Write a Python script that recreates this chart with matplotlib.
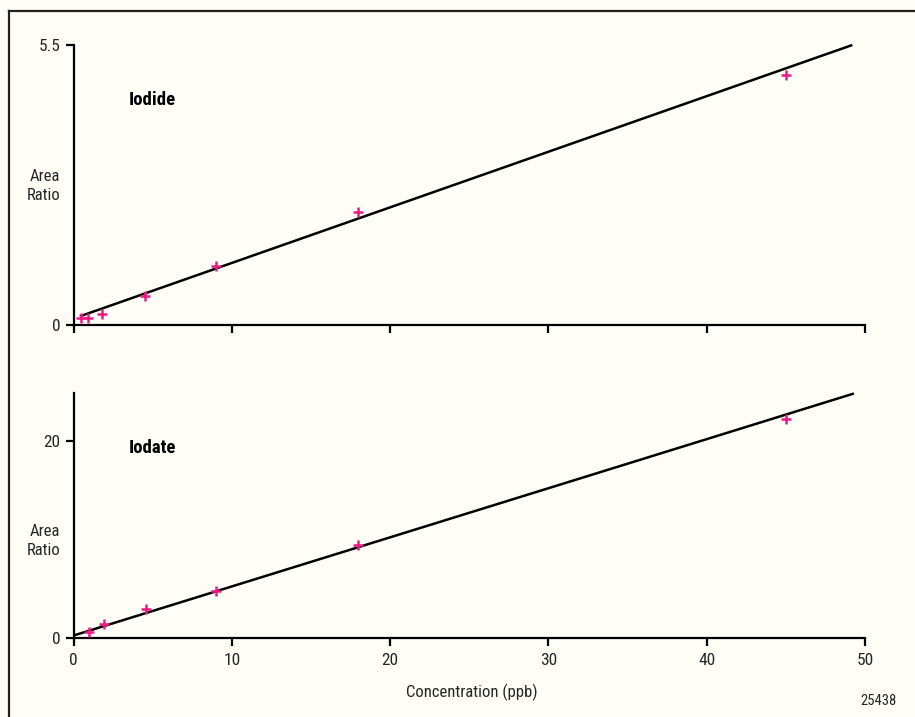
import matplotlib
matplotlib.use("Agg")
import matplotlib.pyplot as plt
from matplotlib.lines import Line2D
from matplotlib import font_manager as fm

# ---- data ----
iodide_x = [0.45, 0.9, 1.8, 4.5, 9.0, 18.0, 45.0]
iodide_y = [0.14, 0.14, 0.21, 0.57, 1.15, 2.22, 4.92]
iodide_fit_x = [0.4, 49.2]
iodide_fit_y = [0.17, 5.5]

iodate_x = [1.0, 1.9, 4.6, 9.0, 18.0, 45.0]
iodate_y = [0.64, 1.42, 2.9, 4.8, 9.4, 22.2]
iodate_fit_x = [0.0, 49.3]
iodate_fit_y = [0.25, 24.8]

x_ticks = [0, 10, 20, 30, 40, 50]
x_ticklabels = ["0", "10", "20", "30", "40", "50"]
top_yticks = [0, 5.5]
top_yticklabels = ["0", "5.5"]
bot_yticks = [0, 20]
bot_yticklabels = ["0", "20"]

names = sorted({f.name for f in fm.fontManager.ttflist})
cands = ['Liberation Sans Narrow', 'Roboto Condensed', 'Open Sans Condensed', 'DejaVu Sans Condensed']
FONT = [c for c in cands if c in names] + ['Liberation Sans', 'DejaVu Sans']
plt.rcParams['font.family'] = FONT
plt.rcParams['font.stretch'] = 'condensed'
TXT = '#262626'
BG = '#FEFEF6'
PINK = '#EC1C86'

fig = plt.figure(figsize=(9.15, 7.17), dpi=100)
fig.patch.set_facecolor(BG)

W, H = 915, 717
def ax_rect(x0, x1, ytop, ybot):
    return [x0 / W, 1 - ybot / H, (x1 - x0) / W, (ybot - ytop) / H]

ax1 = fig.add_axes(ax_rect(73.5, 865, 45, 325))
ax2 = fig.add_axes(ax_rect(73.5, 865, 392.5, 638))

for ax in (ax1, ax2):
    ax.set_facecolor(BG)
    ax.set_xlim(0, 50)
    for s in ('top', 'right'):
        ax.spines[s].set_visible(False)
    for s in ('left', 'bottom'):
        ax.spines[s].set_linewidth(1.6)
        ax.spines[s].set_color('black')
    ax.tick_params(direction='out', length=6, width=1.6, color='black',
                   labelsize=12.5, labelcolor=TXT, pad=3.5)
    ax.set_xticks(x_ticks)

ax1.set_ylim(0, 5.5)
ax1.set_yticks(top_yticks)
ax1.set_yticklabels(top_yticklabels)
ax1.set_xticklabels([])

ax2.set_ylim(0, 24.9)
ax2.set_yticks(bot_yticks)
ax2.set_yticklabels(bot_yticklabels)
ax2.set_xticklabels(x_ticklabels)
ax2.tick_params(axis='x', pad=5)

ax1.plot(iodide_fit_x, iodide_fit_y, color='black', lw=1.8, solid_capstyle='butt', clip_on=False)
ax1.plot(iodide_x, iodide_y, linestyle='none', marker='+', ms=7.5, mew=1.8, color=PINK, clip_on=False, zorder=3)
ax2.plot(iodate_fit_x, iodate_fit_y, color='black', lw=1.8, solid_capstyle='butt', clip_on=False)
ax2.plot(iodate_x, iodate_y, linestyle='none', marker='+', ms=7.5, mew=1.8, color=PINK, clip_on=False, zorder=3)

ax1.text(3.5, 4.42, "Iodide", fontsize=13.5, fontweight='bold', color='black', va='center', ha='left')
ax2.text(3.5, 19.25, "Iodate", fontsize=13.5, fontweight='bold', color='black', va='center', ha='left')

fig.text(60 / W, 1 - 186 / H, "Area\nRatio", ha='right', va='center', multialignment='right',
         fontsize=12, color=TXT, linespacing=1.35)
fig.text(60 / W, 1 - 541 / H, "Area\nRatio", ha='right', va='center', multialignment='right',
         fontsize=12, color=TXT, linespacing=1.35)

fig.text(471.5 / W, 1 - 692 / H, "Concentration (ppb)", ha='center', va='center', fontsize=12, color=TXT)
fig.text(897 / W, 1 - 701 / H, "25438", ha='right', va='center', fontsize=10.5, color=TXT)

# frame lines (top and left)
fig.add_artist(Line2D([9 / W, 1.0], [1 - 11 / H, 1 - 11 / H], transform=fig.transFigure, color='#222222', lw=1.6))
fig.add_artist(Line2D([9 / W, 9 / W], [0.0, 1 - 11 / H], transform=fig.transFigure, color='#222222', lw=1.6))

fig.savefig("out.png", dpi=100, facecolor=BG)
